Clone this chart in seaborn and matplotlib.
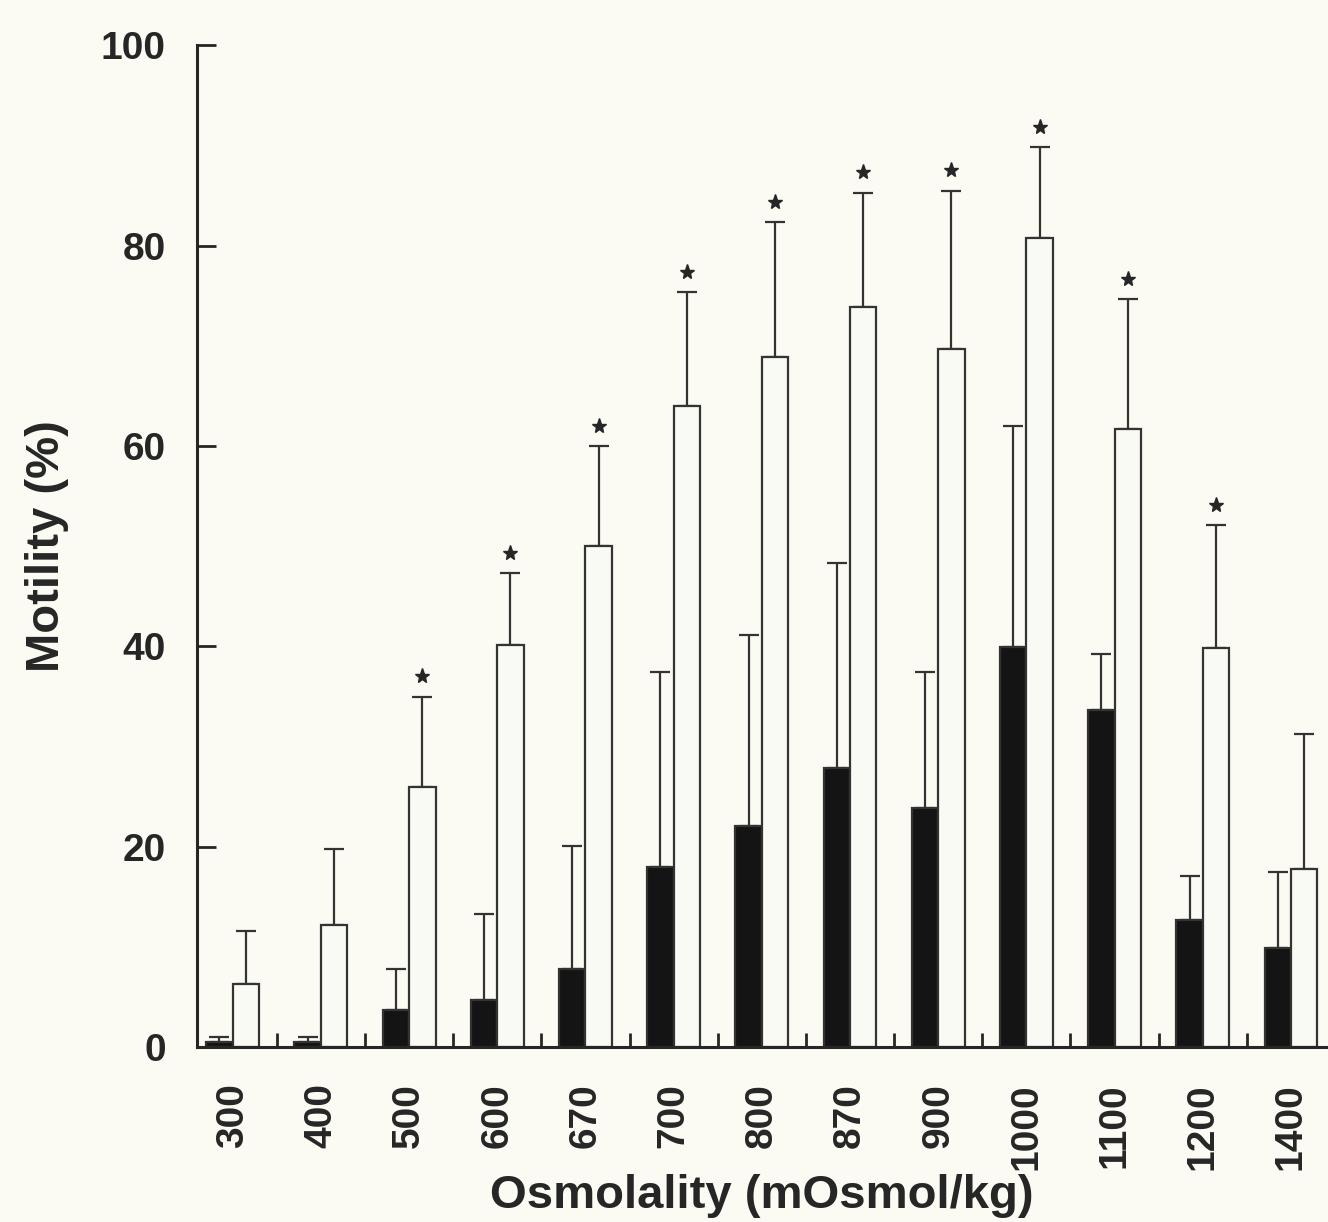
import numpy as np
import pandas as pd
import matplotlib
matplotlib.use("Agg")
import matplotlib.pyplot as plt
import seaborn as sns

# values
osmolality = ['300', '400', '500', '600', '670', '700', '800', '870', '900', '1000', '1100', '1200', '1400']
control = [0.5, 0.5, 3.7, 4.7, 7.8, 18.0, 22.1, 27.9, 23.9, 39.9, 33.7, 12.7, 9.9]
control_err_top = [1.0, 1.0, 7.8, 13.3, 20.1, 37.4, 41.1, 48.3, 37.4, 62.0, 39.2, 17.1, 17.5]
treated = [6.3, 12.2, 26.0, 40.1, 50.0, 64.0, 68.9, 73.9, 69.7, 80.8, 61.7, 39.8, 17.8]
treated_err_top = [11.6, 19.8, 35.0, 47.3, 60.0, 75.4, 82.4, 85.3, 85.5, 89.8, 74.7, 52.1, 31.3]
significant = [False, False, True, True, True, True, True, True, True, True, True, True, False]

bg = '#fbfbf4'
ink = '#262626'

sns.set_style('ticks')
plt.rcParams['font.family'] = ['Liberation Sans', 'DejaVu Sans']
plt.rcParams['font.weight'] = 'bold'

df = pd.DataFrame({
    'Osmolality': osmolality * 2,
    'Motility': control + treated,
    'group': ['control'] * len(osmolality) + ['treated'] * len(osmolality),
})

fig = plt.figure(figsize=(13.28, 12.22), dpi=100, facecolor=bg)
ax = fig.add_axes([0.148, 0.143, 0.852, 0.82], facecolor=bg)

sns.barplot(data=df, x='Osmolality', y='Motility', hue='group',
            palette={'control': '#141414', 'treated': bg},
            width=0.6, edgecolor='#333333', linewidth=1.6,
            errorbar=None, legend=False, ax=ax)

# upper error bars + significance stars
for cont, tops, stars in zip(ax.containers,
                             [control_err_top, treated_err_top],
                             [None, significant]):
    xs = [p.get_x() + p.get_width() / 2 for p in cont.patches]
    hs = [p.get_height() for p in cont.patches]
    up = np.array(tops) - np.array(hs)
    ax.errorbar(xs, hs, yerr=[np.zeros(len(hs)), up], fmt='none',
                ecolor='#333333', elinewidth=1.6, capsize=7, capthick=1.6,
                zorder=0.9)
    if stars is not None:
        for x, t, s in zip(xs, tops, stars):
            if s:
                ax.plot(x, t + 2.0, marker='*', ms=11, color=ink,
                        linestyle='none')

ax.set_ylim(0, 100)
ax.set_xlim(-0.41, 12.42)
ax.set_yticks([0, 20, 40, 60, 80, 100])
ax.set_xticks(range(len(osmolality)))
ax.set_xticklabels(osmolality, rotation=90)
ax.set_xticks(np.arange(0.5, len(osmolality) - 1, 1), minor=True)

ax.tick_params(axis='y', direction='in', length=14, width=2, pad=22,
               labelsize=28, colors=ink)
ax.tick_params(axis='x', which='major', length=0, pad=26, labelsize=28,
               colors=ink)
ax.tick_params(axis='x', which='minor', direction='in', length=10, width=2,
               color=ink)

for side in ['top', 'right']:
    ax.spines[side].set_visible(False)
for side in ['left', 'bottom']:
    ax.spines[side].set_linewidth(2.2)
    ax.spines[side].set_color(ink)

ax.set_xlabel('Osmolality (mOsmol/kg)', fontsize=34, fontweight='bold',
              color=ink, labelpad=3)
ax.set_ylabel('Motility (%)', fontsize=34, fontweight='bold', color=ink,
              labelpad=23)

fig.savefig('out.png', dpi=100, facecolor=bg)
